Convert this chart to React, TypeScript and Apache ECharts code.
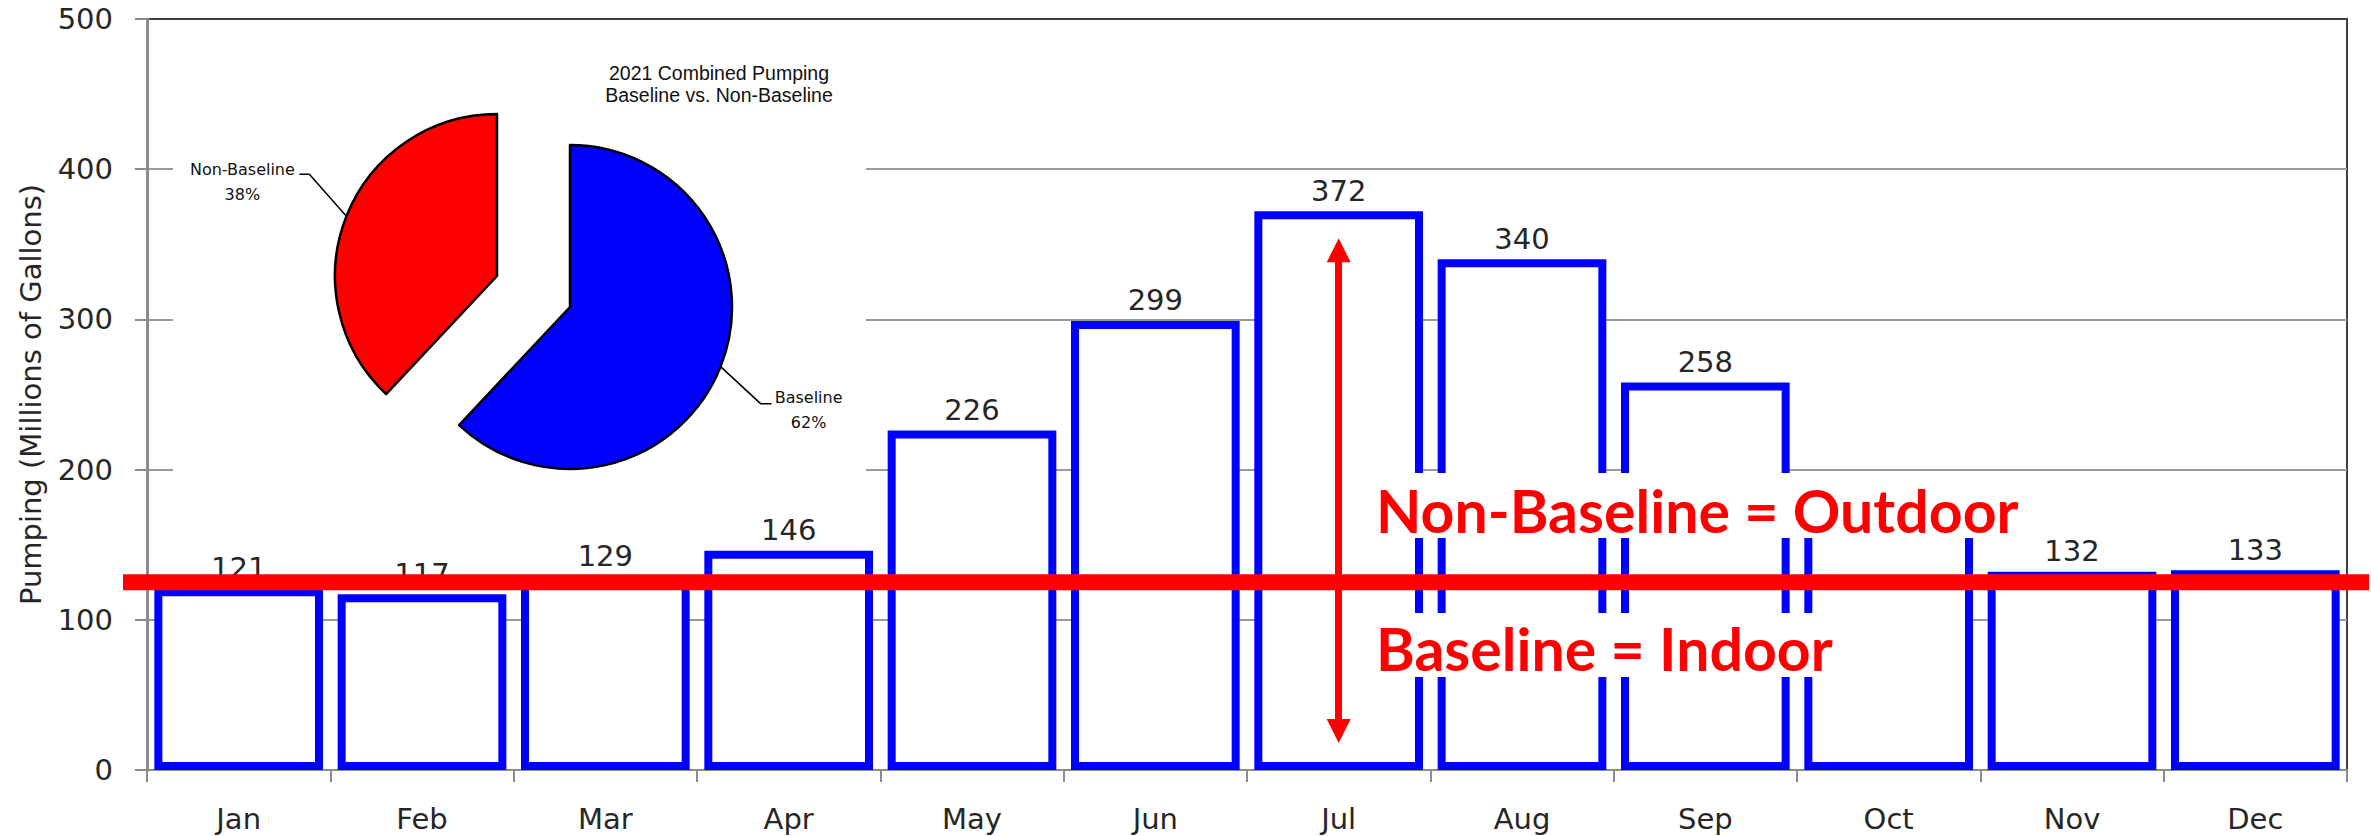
import React, { useEffect, useRef } from "react";
import * as echarts from "echarts";

const months = ["Jan", "Feb", "Mar", "Apr", "May", "Jun", "Jul", "Aug", "Sep", "Oct", "Nov", "Dec"];
const pumping = [121, 117, 129, 146, 226, 299, 372, 340, 258, 170, 132, 133];
const hiddenLabelMonths = ["Oct"];
const yMin = 0;
const yMax = 500;
const yInterval = 100;
const yAxisName = "Pumping (Millions of Gallons)";

const pieNames = ["Baseline", "Non-Baseline"];
const pieValues = [62, 38];
const pieColors = ["#0000ff", "#ff0000"];
const pieTitle = ["2021 Combined Pumping", "Baseline vs. Non-Baseline"];

const baselineLevel = 125;
const arrowMonth = "Jul";
const arrowTop = 346;
const arrowBottom = 26;
const annotationTexts = ["Non-Baseline = Outdoor", "Baseline = Indoor"];

const W = 2371;
const H = 836;
const TXT = "#262626";
const FONT = "DejaVu Sans";

function pieSeries(visible: number, center: number[]) {
  return {
    type: "pie",
    center,
    radius: 162,
    startAngle: 90,
    clockwise: true,
    silent: true,
    avoidLabelOverlap: false,
    z: 3,
    label: {
      show: true,
      position: "outside",
      fontFamily: FONT,
      fontSize: 16,
      lineHeight: 25,
      color: "#111",
      formatter: (p: any) => `${p.name}\n${p.value}%`,
    },
    labelLine: { show: true, lineStyle: { color: "#000", width: 1.5 } },
    labelLayout: (params: any) => {
      const pts = params.labelLinePoints;
      if (!pts) return {};
      const x0 = pts[0][0];
      const y0 = pts[0][1];
      if (params.dataIndex === 1) {
        return {
          x: x0 - 104,
          y: y0 - 34,
          align: "center",
          verticalAlign: "middle",
          labelLinePoints: [[x0, y0], [x0 - 37, y0 - 42], [x0 - 47, y0 - 42]],
        };
      }
      return {
        x: x0 + 88,
        y: y0 + 43,
        align: "center",
        verticalAlign: "middle",
        labelLinePoints: [[x0, y0], [x0 + 40, y0 + 37], [x0 + 51, y0 + 37]],
      };
    },
    data: pieNames.map((name, i) =>
      i === visible
        ? {
            name,
            value: pieValues[i],
            itemStyle: { color: pieColors[i], borderColor: "#000", borderWidth: 2.5 },
          }
        : {
            name,
            value: pieValues[i],
            itemStyle: { color: "rgba(0,0,0,0)", borderWidth: 0 },
            label: { show: false },
            labelLine: { show: false },
          }
    ),
  };
}

export default function App() {
  const ref = useRef<HTMLDivElement>(null);
  useEffect(() => {
    const chart = echarts.init(ref.current!, undefined, { renderer: "svg", width: W, height: H });
    chart.setOption({
      animation: false,
      backgroundColor: "#fff",
      grid: {
        left: 147,
        right: 24,
        top: 19,
        bottom: 66,
        show: true,
        borderColor: "#404040",
        borderWidth: 2,
        backgroundColor: "transparent",
      },
      xAxis: {
        type: "category",
        data: months,
        axisLine: { lineStyle: { color: "#8c8c8c", width: 2 } },
        axisTick: { show: true, length: 12, lineStyle: { color: "#8c8c8c", width: 2 } },
        axisLabel: { margin: 34, fontSize: 29, fontFamily: FONT, color: TXT },
      },
      yAxis: {
        type: "value",
        min: yMin,
        max: yMax,
        interval: yInterval,
        name: yAxisName,
        nameLocation: "middle",
        nameGap: 102,
        nameTextStyle: { fontSize: 29, fontFamily: FONT, color: TXT },
        axisLine: { show: true, lineStyle: { color: "#8c8c8c", width: 3 } },
        axisTick: { show: true, length: 12, lineStyle: { color: "#8c8c8c", width: 2 } },
        axisLabel: { margin: 34, fontSize: 29, fontFamily: FONT, color: TXT },
        splitLine: { show: true, showMinLine: false, showMaxLine: false, lineStyle: { color: "#9a9a9a", width: 2 } },
      },
      series: [
        {
          type: "bar",
          data: pumping.map((v, i) =>
            hiddenLabelMonths.includes(months[i]) ? { value: v, label: { show: false } } : v
          ),
          barWidth: "92%",
          z: 2,
          silent: true,
          itemStyle: { color: "#ffffff", borderColor: "#0000ff", borderWidth: 8 },
          label: {
            show: true,
            position: "top",
            distance: 6,
            fontSize: 29,
            fontFamily: FONT,
            color: TXT,
          },
          markLine: {
            silent: true,
            symbol: ["triangle", "triangle"],
            symbolSize: [24, 24],
            lineStyle: { color: "#ff0000", width: 7, type: "solid" },
            label: { show: false },
            data: [[{ coord: [arrowMonth, arrowTop] }, { coord: [arrowMonth, arrowBottom] }]],
          },
        },
        pieSeries(0, [570, 307]),
        pieSeries(1, [497, 276]),
      ],
    });

    const yLine = chart.convertToPixel({ yAxisIndex: 0 }, baselineLevel) as number;

    chart.setOption({
      graphic: [
        {
          type: "rect",
          z: 1,
          silent: true,
          shape: { x: 173, y: 22, width: 693, height: 456 },
          style: { fill: "#ffffff" },
        },
        {
          type: "text",
          z: 4,
          x: 719,
          y: 62,
          silent: true,
          style: {
            text: pieTitle.join("\n"),
            align: "center",
            verticalAlign: "top",
            fontFamily: "Liberation Sans",
            fontSize: 19.5,
            lineHeight: 22,
            fill: "#111",
          },
        },
        {
          type: "rect",
          z: 5,
          silent: true,
          shape: { x: 1372, y: 473, width: 958, height: 65 },
          style: { fill: "#ffffff" },
        },
        {
          type: "rect",
          z: 5,
          silent: true,
          shape: { x: 1372, y: 613, width: 468, height: 64 },
          style: { fill: "#ffffff" },
        },
        {
          type: "text",
          z: 6,
          x: 1376,
          y: 510,
          silent: true,
          style: {
            text: annotationTexts[0],
            align: "left",
            verticalAlign: "middle",
            fontFamily: "Lato",
            fontWeight: "bold",
            fontSize: 59,
            fill: "#ff0000",
          },
        },
        {
          type: "text",
          z: 6,
          x: 1376,
          y: 648,
          silent: true,
          style: {
            text: annotationTexts[1],
            align: "left",
            verticalAlign: "middle",
            fontFamily: "Lato",
            fontWeight: "bold",
            fontSize: 59,
            fill: "#ff0000",
          },
        },
        {
          type: "line",
          z: 7,
          silent: true,
          shape: { x1: 123, y1: yLine, x2: 2369, y2: yLine },
          style: { stroke: "#ff0000", lineWidth: 16 },
        },
      ],
    });

    return () => chart.dispose();
  }, []);
  return <div ref={ref} style={{ position: "fixed", left: 0, top: 0, width: W, height: H }} />;
}
